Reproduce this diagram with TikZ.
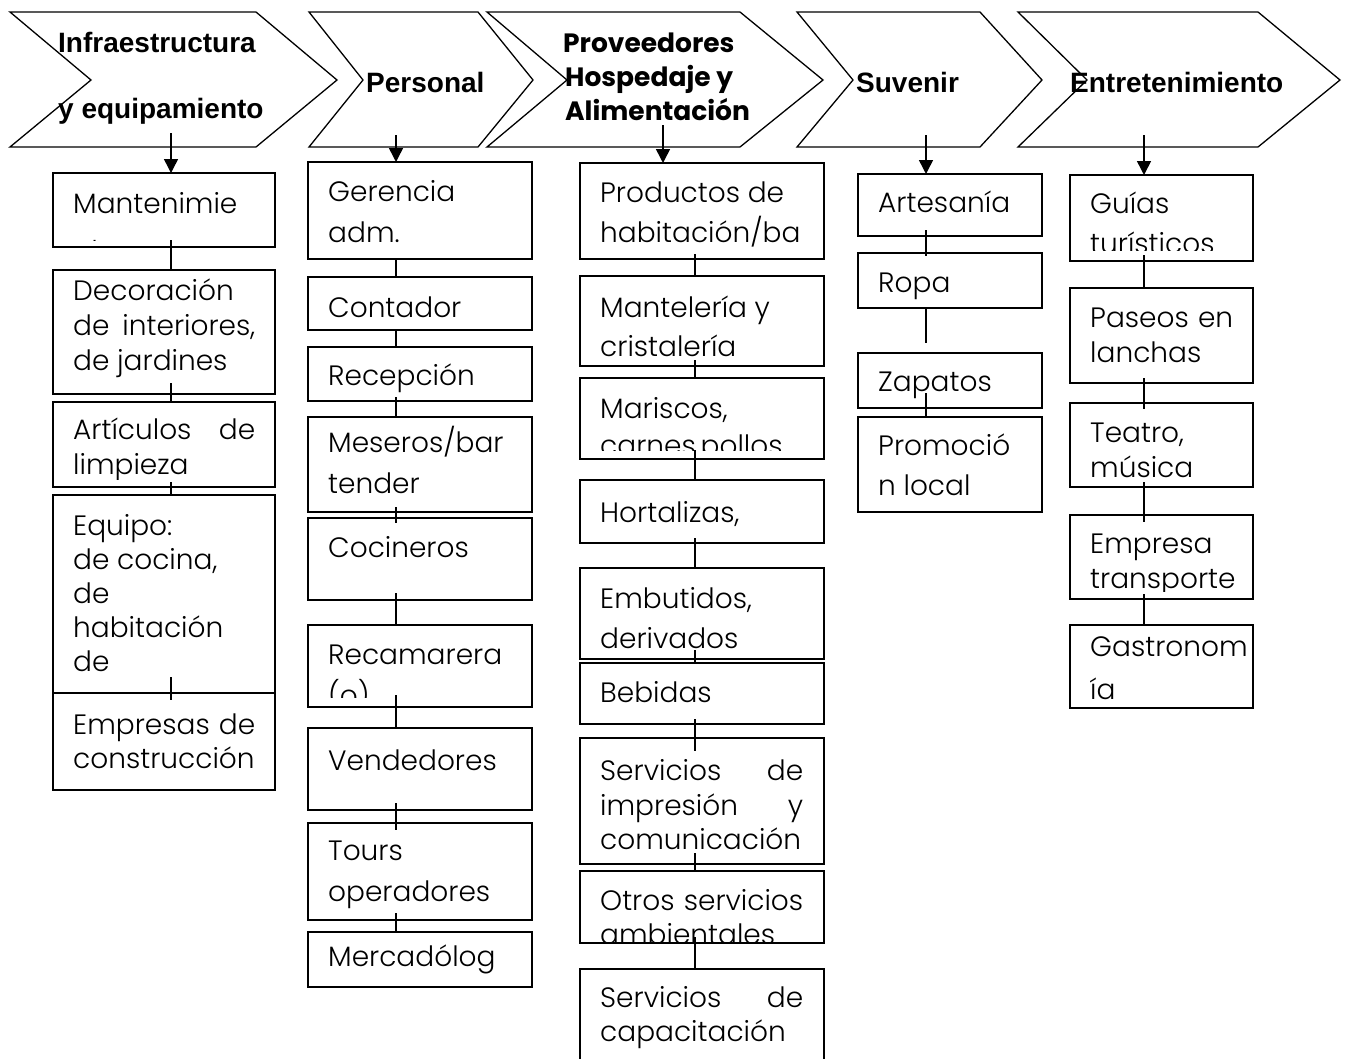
\documentclass[tikz,border=0pt]{standalone}
\usepackage{fontspec}
\IfFontExistsTF{Poppins Light}{\setmainfont{Poppins Light}}{\setmainfont{Poppins}}
\newfontfamily\popfont{Poppins}
\newfontfamily\hdfont{Liberation Sans}
\usetikzlibrary{arrows.meta,calc}
\tikzset{
  chev/.style={draw, line width=1.3pt, line join=miter},
  cellbox/.style={draw, line width=1.7pt, anchor=north west, inner sep=0pt, outer sep=0pt, minimum height=#1},
  tx/.style={anchor=base west, inner sep=0pt, font=\fontsize{28}{30}\selectfont},
  hd/.style={anchor=base west, inner sep=0pt, font=\hdfont\bfseries\fontsize{28}{30}\selectfont},
  hdp/.style={anchor=base west, inner sep=0pt, font=\popfont\bfseries\fontsize{26.5}{28}\selectfont},
  link/.style={line width=1.5pt},
  down/.style={line width=1.5pt, -{Triangle[width=14pt,length=14pt]}},
}
\newcommand\tl[4]{\node[tx] (#1) at (#2,#3) {#4};}
\newcommand\jl[2]{\makebox[#1pt][s]{#2}}
\newcommand\clipbox[2]{\clip (#1.north west) rectangle ($(#1.south east)+(0,-#2)$);}
\newcommand\conn[5]{\draw[link] ($(#2.south -| #1)+(0,-#4)$) -- ($(#3.north -| #1)+(0,#5)$);}
\begin{document}
\begin{tikzpicture}[x=1pt,y=-1pt]
\clip (0,0) rectangle (1346,1058);
\fill[white] (0,0) rectangle (1346,1058);

% ---------- column x coordinates ----------
\coordinate (k1) at (171,0);
\coordinate (k2) at (396,0);
\coordinate (k3) at (695,0);
\coordinate (k4) at (926,0);
\coordinate (k5) at (1144,0);

% ---------- chevrons ----------
\draw[chev] (10,12) -- (256,12) -- (337,80) -- (256,147) -- (10,147) -- (91,80) -- cycle;
\draw[chev] (309,12) -- (478,12) -- (533,80) -- (478,147) -- (309,147) -- (363,80) -- cycle;
\draw[chev] (487,12) -- (740,12) -- (823,80) -- (740,147) -- (487,147) -- (567,80) -- cycle;
\draw[chev] (797,12) -- (980,12) -- (1042,80) -- (980,147) -- (797,147) -- (853,80) -- cycle;
\draw[chev] (1018,12) -- (1258,12) -- (1340,80) -- (1258,147) -- (1018,147) -- (1087,80) -- cycle;

\node[hd] (h1a) at (58,52) {Infraestructura};
\node[hd] (h1b) at (58,118) {y equipamiento};
\node[hd] (h2) at (366,92) {Personal};
\node[hdp] (h3a) at (563,52) {Proveedores};
\node[hdp] (h3b) at (565,86) {Hospedaje y};
\node[hdp] (h3c) at (565,120) {Alimentación};
\node[hd] (h4) at (856,92) {Suvenir};
\node[hd] (h5) at (1070,92) {Entretenimiento};

\coordinate (a1) at (171,133);
\coordinate (a2) at (396,135);
\coordinate (a3) at (663,125);
\coordinate (a4) at (926,135);
\coordinate (a5) at (1144,135);

% ---------- column 1 ----------
\node[cellbox=74pt, minimum width=222pt] (b11) at (53,173) {};
\node[cellbox=124pt, minimum width=222pt] (b12) at (53,270) {};
\node[cellbox=85pt, minimum width=222pt] (b13) at (53,402) {};
\node[cellbox=198pt, minimum width=222pt] (b14) at (53,495) {};
\node[cellbox=97pt, minimum width=222pt] (b15) at (53,693) {};
\begin{scope}\clipbox{b11}{7}\tl{t11a}{73}{213}{Mantenimie}\tl{t11b}{73}{259}{nto}\end{scope}
\begin{scope}\clipbox{b12}{8}\tl{t12a}{73}{300}{Decoración}\tl{t12b}{73}{335}{\jl{182}{de interiores,}}\tl{t12c}{73}{370}{de jardines}\end{scope}
\begin{scope}\clipbox{b13}{8}\tl{t13a}{73}{439}{\jl{182}{Artículos de}}\tl{t13b}{73}{474}{limpieza}\end{scope}
\begin{scope}\clipbox{b14}{8}\tl{t14a}{73}{535}{Equipo:}\tl{t14b}{73}{569}{de cocina,}\tl{t14c}{73}{603}{de}\tl{t14d}{73}{637}{habitación}\tl{t14e}{73}{671}{de}\end{scope}
\begin{scope}\clipbox{b15}{8}\tl{t15a}{73}{734}{\jl{182}{Empresas de}}\tl{t15b}{73}{768}{construcción}\end{scope}

% ---------- column 2 ----------
\node[cellbox=97pt, minimum width=224pt] (b21) at (308,162) {};
\node[cellbox=53pt, minimum width=224pt] (b22) at (308,277) {};
\node[cellbox=54pt, minimum width=224pt] (b23) at (308,347) {};
\node[cellbox=95pt, minimum width=224pt] (b24) at (308,417) {};
\node[cellbox=82pt, minimum width=224pt] (b25) at (308,518) {};
\node[cellbox=82pt, minimum width=224pt] (b26) at (308,625) {};
\node[cellbox=82pt, minimum width=224pt] (b27) at (308,728) {};
\node[cellbox=97pt, minimum width=224pt] (b28) at (308,823) {};
\node[cellbox=55pt, minimum width=224pt] (b29) at (308,932) {};
\begin{scope}\clipbox{b21}{8}\tl{t21a}{328}{201}{Gerencia}\tl{t21b}{328}{242}{adm.}\end{scope}
\begin{scope}\clipbox{b22}{4}\tl{t22a}{328}{317}{Contador}\end{scope}
\begin{scope}\clipbox{b23}{4}\tl{t23a}{328}{385}{Recepción}\end{scope}
\begin{scope}\clipbox{b24}{4}\tl{t24a}{328}{452}{Meseros/bar}\tl{t24b}{328}{493}{tender}\end{scope}
\begin{scope}\clipbox{b25}{8}\tl{t25a}{328}{557}{Cocineros}\end{scope}
\begin{scope}\clipbox{b26}{10}\tl{t26a}{328}{664}{Recamarera}\tl{t26b}{328}{705}{(o)}\end{scope}
\begin{scope}\clipbox{b27}{8}\tl{t27a}{328}{770}{Vendedores}\end{scope}
\begin{scope}\clipbox{b28}{4}\tl{t28a}{328}{860}{Tours}\tl{t28b}{328}{901}{operadores}\end{scope}
\begin{scope}\clipbox{b29}{2}\tl{t29a}{328}{966}{Mercadólog}\end{scope}

% ---------- column 3 ----------
\node[cellbox=96pt, minimum width=244pt] (b31) at (580,163) {};
\node[cellbox=90pt, minimum width=244pt] (b32) at (580,276) {};
\node[cellbox=81pt, minimum width=244pt] (b33) at (580,378) {};
\node[cellbox=63pt, minimum width=244pt] (b34) at (580,480) {};
\node[cellbox=91pt, minimum width=244pt] (b35) at (580,568) {};
\node[cellbox=61pt, minimum width=244pt] (b36) at (580,663) {};
\node[cellbox=126pt, minimum width=244pt] (b37) at (580,738) {};
\node[cellbox=72pt, minimum width=244pt] (b38) at (580,871) {};
\node[cellbox=120pt, minimum width=244pt] (b39) at (580,969) {};
\begin{scope}\clipbox{b31}{4}\tl{t31a}{600}{202}{Productos de}\tl{t31b}{600}{242}{habitación/ba}\end{scope}
\begin{scope}\clipbox{b32}{4}\tl{t32a}{600}{317}{Mantelería y}\tl{t32b}{600}{356}{cristalería}\end{scope}
\begin{scope}\clipbox{b33}{9}\tl{t33a}{600}{418}{Mariscos,}\tl{t33b}{600}{455}{carnes,pollos}\end{scope}
\begin{scope}\clipbox{b34}{4}\tl{t34a}{600}{522}{Hortalizas,}\end{scope}
\begin{scope}\clipbox{b35}{2}\tl{t35a}{600}{608}{Embutidos,}\tl{t35b}{600}{648}{derivados}\end{scope}
\begin{scope}\clipbox{b36}{4}\tl{t36a}{600}{702}{Bebidas}\end{scope}
\begin{scope}\clipbox{b37}{4}\tl{t37a}{600}{780}{\jl{203}{Servicios de}}\tl{t37b}{600}{815}{\jl{203}{impresión y}}\tl{t37c}{600}{849}{comunicación}\end{scope}
\begin{scope}\clipbox{b38}{2}\tl{t38a}{600}{910}{\jl{203}{Otros servicios}}\tl{t38b}{600}{944}{ambientales}\end{scope}
\begin{scope}\clipbox{b39}{4}\tl{t39a}{600}{1007}{\jl{203}{Servicios de}}\tl{t39b}{600}{1041}{capacitación}\end{scope}

% ---------- column 4 ----------
\node[cellbox=62pt, minimum width=184pt] (b41) at (858,174) {};
\node[cellbox=55pt, minimum width=184pt] (b42) at (858,253) {};
\node[cellbox=55pt, minimum width=184pt] (b43) at (858,353) {};
\node[cellbox=95pt, minimum width=184pt] (b44) at (858,417) {};
\begin{scope}\clipbox{b41}{4}\tl{t41a}{878}{212}{Artesanía}\end{scope}
\begin{scope}\clipbox{b42}{2}\tl{t42a}{878}{292}{Ropa}\end{scope}
\begin{scope}\clipbox{b43}{2}\tl{t43a}{878}{391}{Zapatos}\end{scope}
\begin{scope}\clipbox{b44}{4}\tl{t44a}{878}{455}{Promoció}\tl{t44b}{878}{495}{n local}\end{scope}

% ---------- column 5 ----------
\node[cellbox=86pt, minimum width=183pt] (b51) at (1070,175) {};
\node[cellbox=95pt, minimum width=183pt] (b52) at (1070,288) {};
\node[cellbox=84pt, minimum width=183pt] (b53) at (1070,403) {};
\node[cellbox=84pt, minimum width=183pt] (b54) at (1070,515) {};
\node[cellbox=83pt, minimum width=183pt] (b55) at (1070,625) {};
\begin{scope}\clipbox{b51}{11}\tl{t51a}{1090}{213}{Guías}\tl{t51b}{1090}{253}{turísticos}\end{scope}
\begin{scope}\clipbox{b52}{4}\tl{t52a}{1090}{327}{\jl{143}{Paseos en}}\tl{t52b}{1090}{362}{lanchas}\end{scope}
\begin{scope}\clipbox{b53}{4}\tl{t53a}{1090}{442}{Teatro,}\tl{t53b}{1090}{477}{música}\end{scope}
\begin{scope}\clipbox{b54}{8}\tl{t54a}{1090}{553}{Empresa}\tl{t54b}{1090}{588}{transporte}\end{scope}
\begin{scope}\clipbox{b55}{4}\tl{t55a}{1090}{656}{Gastronom}\tl{t55b}{1090}{699}{ía}\end{scope}

% ---------- arrows from headers ----------
\draw[down] (a1) -- (b11.north -| a1);
\draw[down] (a2) -- (b21.north -| a2);
\draw[down] (a3) -- (b31.north -| a3);
\draw[down] (a4) -- (b41.north -| a4);
\draw[down] (a5) -- (b51.north -| a5);

% ---------- connectors ----------
\conn{k1}{b11}{b12}{7}{0}
\conn{k1}{b12}{b13}{11}{0}
\conn{k1}{b13}{b14}{5}{0}
\conn{k1}{b14}{b15}{16}{7}

\conn{k2}{b21}{b22}{0}{0}
\conn{k2}{b22}{b23}{0}{0}
\conn{k2}{b23}{b24}{4}{0}
\conn{k2}{b24}{b25}{5}{5}
\conn{k2}{b25}{b26}{7}{0}
\conn{k2}{b26}{b27}{12}{0}
\conn{k2}{b27}{b28}{7}{7}
\conn{k2}{b28}{b29}{7}{0}

\conn{k3}{b31}{b32}{5}{0}
\conn{k3}{b32}{b33}{6}{0}
\conn{k3}{b33}{b34}{9}{0}
\conn{k3}{b34}{b35}{5}{0}
\conn{k3}{b35}{b36}{9}{0}
\conn{k3}{b36}{b37}{5}{13}
\conn{k3}{b37}{b38}{11}{1}
\conn{k3}{b38}{b39}{6}{1}

\coordinate (zf) at (926,343);
\conn{k4}{b41}{b42}{6}{3}
\draw[link] (b42.south -| k4) -- (zf);
\conn{k4}{b43}{b44}{15}{0}

\conn{k5}{b51}{b52}{6}{0}
\conn{k5}{b52}{b53}{5}{6}
\conn{k5}{b53}{b54}{5}{7}
\conn{k5}{b54}{b55}{5}{0}
\end{tikzpicture}
\end{document}
